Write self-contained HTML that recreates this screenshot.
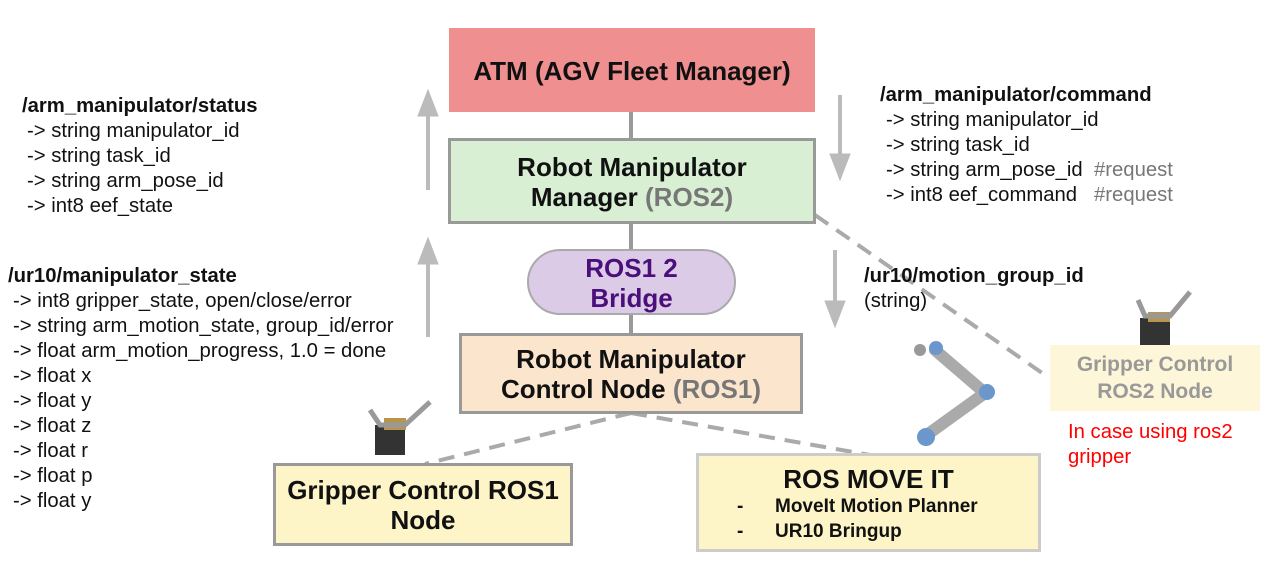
<!DOCTYPE html>
<html><head><meta charset="utf-8"><style>
body{margin:0;width:1266px;height:565px;background:#fff;position:relative;overflow:hidden;font-family:"Liberation Sans",sans-serif;}
.t{position:absolute;font-size:20.3px;line-height:25px;color:#111;white-space:pre;}
.b{position:absolute;box-sizing:border-box;text-align:center;font-weight:bold;font-size:26px;line-height:30px;color:#111;}
.g{color:#777;}
</style></head><body>
<svg width="1266" height="565" style="position:absolute;left:0;top:0">
<g stroke="#999" stroke-width="4">
<line x1="631" y1="110" x2="631" y2="140"/>
<line x1="631" y1="222" x2="631" y2="250"/>
<line x1="631" y1="314" x2="631" y2="334"/>
</g>
<g stroke="#aaa" stroke-width="4" stroke-dasharray="16,10" fill="none">
<line x1="631" y1="413" x2="425" y2="464"/>
<line x1="631" y1="413" x2="870" y2="455"/>
<line x1="815" y1="215" x2="1045" y2="375"/>
</g>
<g fill="#bbb" stroke="#bbb">
<line x1="428" y1="190" x2="428" y2="110" stroke-width="4"/><polygon points="418,116 438,116 428,90"/>
<line x1="428" y1="337" x2="428" y2="258" stroke-width="4"/><polygon points="418,264 438,264 428,238"/>
<line x1="840" y1="95" x2="840" y2="160" stroke-width="4"/><polygon points="830,154 850,154 840,180"/>
<line x1="835" y1="250" x2="835" y2="307" stroke-width="4"/><polygon points="825,301 845,301 835,327"/>
</g>
<g stroke-linecap="round">
<line x1="924" y1="437" x2="985" y2="393" stroke="#aaa" stroke-width="12"/>
<line x1="985" y1="393" x2="935" y2="350" stroke="#aaa" stroke-width="12"/>
<circle cx="926" cy="437" r="9" fill="#6b97cc"/>
<circle cx="987" cy="392" r="8" fill="#6b97cc"/>
<circle cx="936" cy="348" r="7" fill="#6b97cc"/>
<circle cx="920" cy="350" r="6" fill="#999"/>
</g>
<g>
<rect x="375" y="425" width="30" height="30" fill="#333"/><rect x="384" y="418" width="22" height="12" fill="#b8954a"/>
<polyline points="370,410 380,425 405,425 430,402" stroke="#999" stroke-width="5" fill="none"/>
<rect x="1140" y="318" width="30" height="28" fill="#333"/><rect x="1148" y="312" width="22" height="10" fill="#b8954a"/>
<polyline points="1138,300 1145,316 1170,316 1190,292" stroke="#999" stroke-width="5" fill="none"/>
</g>
</svg>

<div class="b" style="left:449px;top:28px;width:366px;height:84px;background:#ef8f8f;padding-top:28px;">ATM (AGV Fleet Manager)</div>
<div class="b" style="left:448px;top:138px;width:368px;height:86px;background:#d9efd4;border:3px solid #999;padding-top:11px;">Robot Manipulator<br>Manager <span class="g">(ROS2)</span></div>
<div class="b" style="left:527px;top:249px;width:209px;height:66px;background:#dccbe6;border:2px solid #aaa;border-radius:33px;color:#4a0f7a;padding-top:2px;">ROS1 2<br>Bridge</div>
<div class="b" style="left:459px;top:333px;width:344px;height:81px;background:#fce5cd;border:3px solid #999;padding-top:8px;">Robot Manipulator<br>Control Node <span class="g">(ROS1)</span></div>
<div class="b" style="left:273px;top:463px;width:300px;height:83px;background:#fdf4c8;border:3px solid #999;padding-top:9px;">Gripper Control ROS1<br>Node</div>
<div class="b" style="left:696px;top:453px;width:345px;height:99px;background:#fdf4c8;border:3px solid #ccc;padding-top:8px;">ROS MOVE IT
<div style="font-size:19px;line-height:25px;text-align:left;padding-left:38px;">-&nbsp;&nbsp;&nbsp;&nbsp;&nbsp;&nbsp;MoveIt Motion Planner<br>-&nbsp;&nbsp;&nbsp;&nbsp;&nbsp;&nbsp;UR10 Bringup</div></div>
<div class="b" style="left:1050px;top:345px;width:210px;height:66px;background:#fdf6d8;color:#999;font-size:21px;line-height:27px;padding-top:6px;">Gripper Control<br>ROS2 Node</div>

<div class="t" style="left:22px;top:94px;"><b>/arm_manipulator/status</b></div>
<div class="t" style="left:27px;top:119px;">-&gt; string manipulator_id
-&gt; string task_id
-&gt; string arm_pose_id
-&gt; int8 eef_state</div>
<div class="t" style="left:8px;top:264px;"><b>/ur10/manipulator_state</b></div>
<div class="t" style="left:13px;top:289px;">-&gt; int8 gripper_state, open/close/error
-&gt; string arm_motion_state, group_id/error
-&gt; float arm_motion_progress, 1.0 = done
-&gt; float x
-&gt; float y
-&gt; float z
-&gt; float r
-&gt; float p
-&gt; float y</div>
<div class="t" style="left:880px;top:83px;"><b>/arm_manipulator/command</b></div>
<div class="t" style="left:886px;top:108px;">-&gt; string manipulator_id
-&gt; string task_id
-&gt; string arm_pose_id  <span style="color:#777">#request</span>
-&gt; int8 eef_command   <span style="color:#777">#request</span></div>
<div class="t" style="left:864px;top:264px;"><b>/ur10/motion_group_id</b>
(string)</div>
<div class="t" style="left:1068px;top:420px;color:#f00;">In case using ros2
gripper</div>
</body></html>
